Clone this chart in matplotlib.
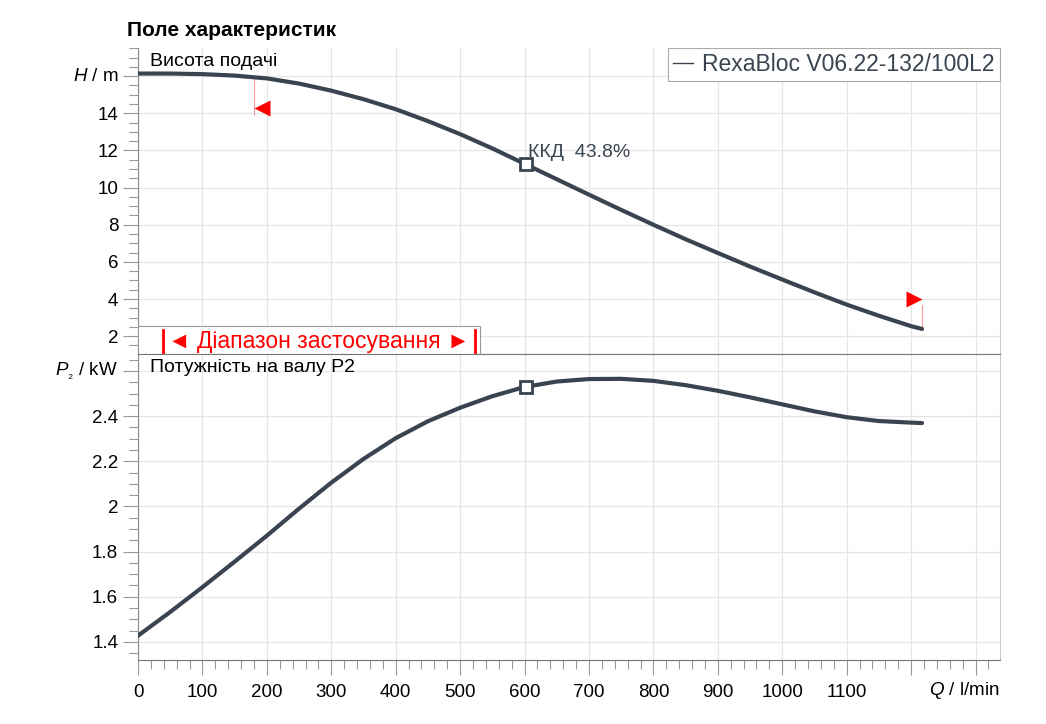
import matplotlib
matplotlib.use("Agg")
import matplotlib.pyplot as plt
import numpy as np
from matplotlib.ticker import MultipleLocator, FuncFormatter
from matplotlib.lines import Line2D
from matplotlib.patches import Rectangle
from matplotlib import transforms

plt.rcParams['font.family'] = ['Liberation Sans', 'DejaVu Sans']
plt.rcParams['mathtext.fontset'] = 'custom'
plt.rcParams['mathtext.rm'] = 'Liberation Sans'
plt.rcParams['mathtext.it'] = 'Liberation Sans:italic'

# values
q = [0, 50, 100, 150, 200, 250, 300, 350, 400, 450, 500, 550, 600, 650,
     700, 750, 800, 850, 900, 950, 1000, 1050, 1100, 1150, 1200, 1217]
head = [16.14, 16.14, 16.11, 16.03, 15.88, 15.6, 15.22, 14.76, 14.22, 13.58,
        12.88, 12.11, 11.28, 10.45, 9.62, 8.8, 8.0, 7.22, 6.48, 5.75, 5.05,
        4.36, 3.7, 3.1, 2.54, 2.39]
power = [1.427, 1.532, 1.642, 1.755, 1.87, 1.99, 2.105, 2.21, 2.302, 2.377,
         2.437, 2.488, 2.529, 2.553, 2.564, 2.565, 2.556, 2.537, 2.512, 2.483,
         2.452, 2.421, 2.395, 2.378, 2.371, 2.369]

duty_q = 603
duty_h = 11.27
duty_p = 2.53
duty_eff = "43.8%"

range_q = [180, 1217]
range_arrow_h = [14.3, 4.0]
range_line_h = [[13.9, 15.93], [3.7, 2.39]]

pump_name = "RexaBloc V06.22-132/100L2"

line_col = '#3a4450'
grid_col = '#e6e6e6'
spine_col = '#8a8a8a'
fs = 13.5

fig = plt.figure(figsize=(10.46, 7.24), dpi=100)
L, R = 138 / 1046, 1000 / 1046
ax1 = fig.add_axes([L, 1 - 354 / 724, R - L, (354 - 48.3) / 724])
ax2 = fig.add_axes([L, 1 - 660.3 / 724, R - L, (660.3 - 354) / 724])

for ax in (ax1, ax2):
    ax.set_xlim(0, 1338)
    ax.xaxis.set_major_locator(MultipleLocator(100))
    ax.xaxis.set_minor_locator(MultipleLocator(20))
    ax.grid(True, which='major', color=grid_col, lw=0.9, zorder=0)
    ax.spines['top'].set_visible(False)
    ax.spines['right'].set_color('#cccccc')
    ax.spines['left'].set_color(spine_col)
    ax.spines['bottom'].set_color('#777777')
    ax.tick_params(which='major', length=10.8, width=0.8, color='#999999',
                   labelsize=fs, pad=3.5)
    ax.tick_params(which='minor', length=6.5, width=0.8, color='#999999')
    ax.set_axisbelow(True)

# top panel: head
ax1.set_ylim(1.04, 17.5)
ax1.yaxis.set_major_locator(MultipleLocator(2))
ax1.yaxis.set_minor_locator(MultipleLocator(0.5))
ax1.yaxis.set_major_formatter(FuncFormatter(lambda v, p: '' if v > 15 else f'{v:g}'))
ax1.tick_params(axis='x', which='both', bottom=False, labelbottom=False)
ax1.plot(q, head, color=line_col, lw=3, solid_capstyle='round',
         solid_joinstyle='round', zorder=3)
ax1.plot([duty_q], [duty_h], marker='s', ms=8, mfc='white', mec=line_col,
         mew=2, zorder=4)
ax1.annotate(f"ККД  {duty_eff}", xy=(duty_q, duty_h), xytext=(1, 5),
             textcoords='offset points', ha='left', va='baseline',
             fontsize=14, color=line_col)

# operating range markers
for i, (rq, ah, lh) in enumerate(zip(range_q, range_arrow_h, range_line_h)):
    ax1.plot([rq, rq], lh, color='#ff9999', lw=0.8, zorder=2)
    dx = 6 if i == 0 else -6
    tr = transforms.offset_copy(ax1.transData, fig=fig, x=dx, y=0, units='points')
    ax1.plot([rq], [ah], marker='<' if i == 0 else '>', ms=11, color='red',
             mec='none', transform=tr, zorder=4)

ax1.text(0.014, 0.985, "Висота подачі", transform=ax1.transAxes,
         ha='left', va='top', fontsize=14)
ax1.text(-0.023, 16, "$H$ / m", transform=ax1.get_yaxis_transform(),
         ha='right', va='center', fontsize=fs)

handle = Line2D([], [], color=line_col, lw=1.0)
leg = ax1.legend([handle], [pump_name], loc='upper right', borderaxespad=0,
                 fontsize=16.5, handlelength=0.9, handletextpad=0.4,
                 fancybox=False, framealpha=1, edgecolor='#aaaaaa',
                 labelcolor=line_col, borderpad=0.22)
leg.get_frame().set_linewidth(0.8)

# application range box
box_w = (480 - 138) / 862
box_h = (354 - 325.7) / 305.7
ax1.add_patch(Rectangle((0, 0), box_w, box_h, transform=ax1.transAxes,
                        facecolor='white', edgecolor='#999999', lw=0.8,
                        zorder=5, clip_on=False))
bx = [(163 - 138) / 862, (475 - 138) / 862]
for x in bx:
    ax1.plot([x, x], [0.005, box_h * 0.85], transform=ax1.transAxes,
             color='red', lw=2, zorder=6, clip_on=False)
ax1.text((bx[0] + bx[1]) / 2, box_h * 0.45, "◄ Діапазон застосування ►",
         transform=ax1.transAxes, ha='center', va='center', fontsize=16.5,
         color='red', zorder=6)

# bottom panel: power
ax2.spines['top'].set_visible(True)
ax2.spines['top'].set_color('#777777')
ax2.set_ylim(1.318, 2.675)
ax2.yaxis.set_major_locator(MultipleLocator(0.2))
ax2.yaxis.set_minor_locator(MultipleLocator(0.05))
ax2.yaxis.set_major_formatter(FuncFormatter(lambda v, p: '' if v > 2.5 else f'{v:g}'))
ax2.xaxis.set_major_formatter(FuncFormatter(lambda v, p: '' if v > 1150 else f'{v:g}'))
ax2.tick_params(axis='x', which='major', pad=6)
ax2.plot(q, power, color=line_col, lw=3, solid_capstyle='round',
         solid_joinstyle='round', zorder=3)
ax2.plot([duty_q], [duty_p], marker='s', ms=8, mfc='white', mec=line_col,
         mew=2, zorder=4)
ax2.text(0.014, 0.985, "Потужність на валу P2", transform=ax2.transAxes,
         ha='left', va='top', fontsize=14)
ax2.text(-0.023, 2.6, "$P_{₂}$ / kW", transform=ax2.get_yaxis_transform(),
         ha='right', va='center', fontsize=fs)
ax2.text(1.0, -30 / 306.3, "$Q$ / l/min", transform=ax2.transAxes,
         ha='right', va='center', fontsize=fs)

fig.text(127 / 1046, 1 - 30 / 724, "Поле характеристик", fontsize=15,
         fontweight='bold', ha='left', va='center')

fig.savefig("out.png", dpi=100)
